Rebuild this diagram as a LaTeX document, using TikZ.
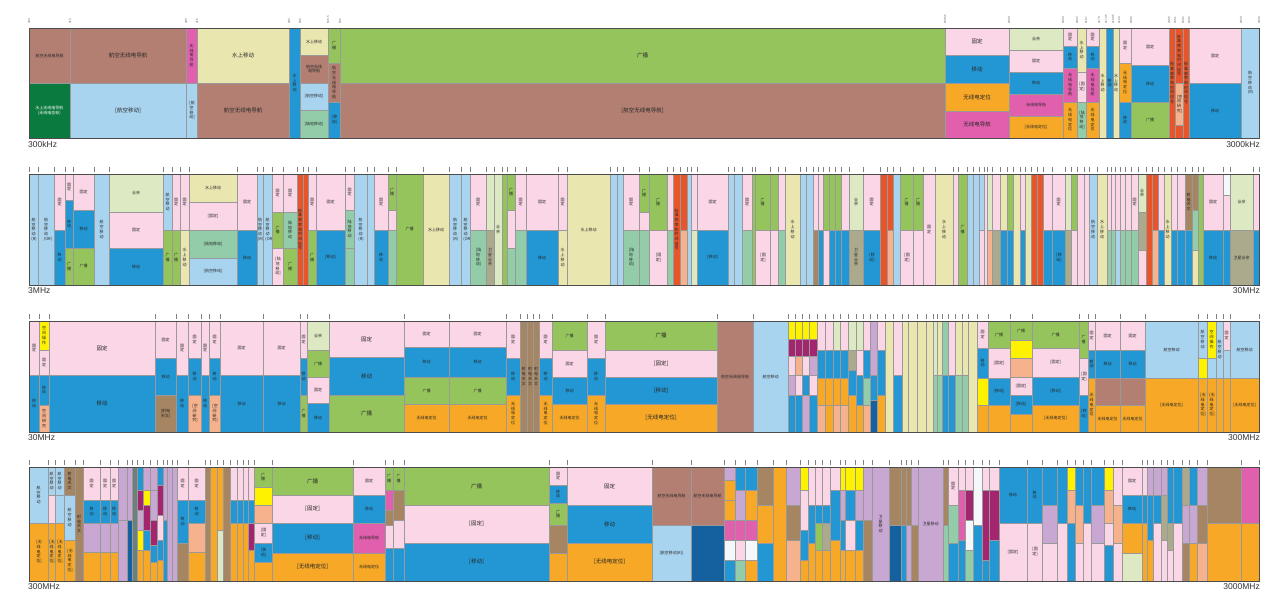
\documentclass[tikz,border=0pt]{standalone}
\usepackage{fontspec}
\setmainfont{Liberation Sans}
\newfontfamily\cjk{Noto Sans CJK SC}
\XeTeXlinebreaklocale "zh"
\XeTeXlinebreakskip=0pt
\definecolor{brn}{HTML}{B27F72}
\definecolor{dgr}{HTML}{0B7A3E}
\definecolor{lbl}{HTML}{A9D4EF}
\definecolor{mag}{HTML}{E060AE}
\definecolor{pyl}{HTML}{EAE6B0}
\definecolor{blu}{HTML}{2297D4}
\definecolor{tea}{HTML}{92CCA9}
\definecolor{grn}{HTML}{95C45C}
\definecolor{pnk}{HTML}{FAD6E6}
\definecolor{org}{HTML}{F6A826}
\definecolor{pgr}{HTML}{DDE9C2}
\definecolor{rdo}{HTML}{E9552B}
\definecolor{sal}{HTML}{F5B28C}
\definecolor{oli}{HTML}{ABAA8C}
\definecolor{yel}{HTML}{FFF200}
\definecolor{pur}{HTML}{A3256F}
\definecolor{lil}{HTML}{C8A8D2}
\definecolor{dbl}{HTML}{15609F}
\definecolor{rad}{HTML}{A58562}
\definecolor{wht}{HTML}{F4F8FB}
\definecolor{gry}{HTML}{6D7F7B}
\newcounter{cellno}
\newif\iftick
\def\nolab{n}
\newcommand\cellbox[6]{%
  \path[cellst,fill=#5] (#1,#2) rectangle (#3,#4);%
  \edef\labtmp{#6}%
  \ifx\labtmp\nolab\else
    \stepcounter{cellno}%
    \pgfmathsetmacro\cw{#3-#1}%
    \pgfmathsetmacro\cxx{(#1+#3)/2}%
    \pgfmathsetmacro\cyy{(#2+#4)/2}%
    \ifdim\cw pt<20pt
      \node[lab,text width=4.2pt] (L\arabic{cellno}) at (\cxx,\cyy) {#6};%
    \else
      \pgfmathsetmacro\tw{\cw-4}%
      \ifdim\cw pt>60pt
        \node[labbig,text width=\tw pt] (L\arabic{cellno}) at (\cxx,\cyy) {#6};%
      \else
        \node[lab,text width=\tw pt] (L\arabic{cellno}) at (\cxx,\cyy) {#6};%
      \fi
    \fi
  \fi}
\newcommand\col[3]{%
  \iftick\draw[tick] (#1,\rowtop-7) -- (#1,\rowtop-2);\fi
  \foreach \ya/\yb/\cco/\lbx in {#3}{\cellbox{#1}{\ya}{#2}{\yb}{\cco}{\lbx}}}
\tikzset{
  cellst/.style={draw=black!40, line width=0.35pt},
  lab/.style={font=\cjk\fontsize{4}{4.7}\selectfont, align=center, inner sep=0pt, text=black!85},
  labbig/.style={font=\cjk\fontsize{5.5}{6.5}\selectfont, align=center, inner sep=0pt, text=black!85},
  tick/.style={draw=black!50, line width=0.9pt},
  rowframe/.style={draw=black!70, line width=0.7pt},
  endlab/.style={font=\fontsize{8.5}{9}\selectfont, text=black!80, inner sep=0pt},
  num/.style={font=\fontsize{3}{3}\selectfont, text=black!60, inner sep=0pt, rotate=90, anchor=west}
}
\begin{document}
\begin{tikzpicture}[x=1pt,y=-1pt]
\useasboundingbox (0,0) rectangle (1272,593);
\fill[white] (0,0) rectangle (1272,593);
% ================= ROW 1 =================
\tickfalse\def\rowtop{28}
\col{29}{70}{28/83/brn/航空无线电导航, 83/138/dgr/n}
\col{70}{186}{28/83/brn/航空无线电导航, 83/138/lbl/[航空移动]}
\col{186}{197}{28/83/mag/无线电导航, 83/138/lbl/[航空移动]}
\col{197}{289}{28/83/pyl/水上移动, 83/138/brn/航空无线电导航}
\col{289}{300}{28/138/blu/水上移动}
\col{300}{328}{28/55/pyl/水上移动, 55/83/brn/航空无线电导航, 83/110/lbl/[航空移动], 110/138/tea/[陆地移动]}
\col{328}{340}{28/63/grn/广播, 63/102/brn/航空无线电导航, 102/138/blu/[移动]}
\col{340}{945}{28/83/grn/广播, 83/138/brn/[航空无线电导航]}
\col{945}{1009}{28/55/pnk/固定, 55/83/blu/移动, 83/111/org/无线电定位, 111/138/mag/无线电导航}
\col{1009}{1063}{28/50/pgr/业余, 50/72/pnk/固定, 72/94/blu/移动, 94/116/mag/无线电导航, 116/138/org/[无线电定位]}
\col{1063}{1077}{28/46/pnk/固定, 46/68/blu/移动, 68/102/mag/无线电导航, 102/138/org/无线电定位}
\col{1077}{1086}{28/72/pyl/水上移动, 72/102/pnk/[固定], 102/138/tea/[陆地移动]}
\col{1086}{1099}{28/46/pnk/固定, 46/68/blu/移动, 68/102/mag/无线电导航, 102/138/org/无线电定位}
\col{1099}{1106}{28/138/pyl/水上移动}
\col{1106}{1113}{28/138/blu/移动}
\col{1113}{1119}{28/138/pyl/水上移动}
\col{1119}{1131}{28/63/pnk/固定, 63/102/org/无线电定位, 102/138/blu/移动}
\col{1131}{1169}{28/65/pnk/固定, 65/102/blu/移动, 102/138/grn/广播}
\col{1169}{1175}{28/138/rdo/标准频率和时间信号}
\col{1175}{1183}{28/83/rdo/标准频率和时间信号, 83/125/sal/[空间研究], 125/138/rdo/n}
\col{1183}{1189}{28/138/rdo/标准频率和时间信号}
\col{1189}{1241}{28/83/pnk/固定, 83/138/blu/移动}
\col{1241}{1259}{28/138/lbl/航空移动(R)}
\node[lab,text=white,text width=38pt] (dgl) at (49.5,110.5) {水上无线电导航\\(无线电信标)};
\draw[rowframe] (29,28) rectangle (1259,138);
\foreach \xx/\tt [count=\i] in {29/300,70/315,186/405,197/415,289/495,300/505,328/526.5,340/535,945/1606.5,1009/1800,1063/2000,1077/2065,1086/2107,1099/2170,1106/2173.5,1113/2190.5,1119/2194,1131/2300,1169/2495,1175/2501,1183/2502,1189/2505,1241/2850,1259/3000}
  \node[num] (t\i) at (\xx,24) {\tt};
\node[endlab,anchor=north west] (r1a) at (28,141) {300kHz};
\node[endlab,anchor=north east] (r1b) at (1260,141) {3000kHz};
% ================= ROW 2 =================
\ticktrue\def\rowtop{174}
\col{29}{38}{174/285/lbl/航空移动(R)}
\col{38}{54}{174/285/lbl/航空移动(OR)}
\col{54}{65}{174/230/pnk/固定, 230/285/blu/移动}
\col{65}{73}{174/200/pnk/固定, 200/248/blu/移动, 248/285/grn/广播}
\col{73}{94}{174/210/pnk/固定, 210/248/blu/移动, 248/285/grn/广播}
\col{94}{109}{174/285/lbl/航空移动}
\col{109}{163}{174/212/pgr/业余, 212/248/pnk/固定, 248/285/blu/移动}
\col{163}{172}{174/230/lbl/航空移动, 230/285/grn/广播}
\col{172}{180}{174/230/pnk/固定, 230/285/grn/广播}
\col{180}{189}{174/230/pnk/固定, 230/285/pyl/水上移动}
\col{189}{237}{174/202/pyl/水上移动, 202/230/pnk/[固定], 230/258/tea/[陆地移动], 258/285/lbl/[航空移动]}
\col{237}{257}{174/230/pnk/固定, 230/285/blu/移动}
\col{257}{263}{174/285/lbl/航空移动(R)}
\col{263}{272}{174/285/lbl/航空移动(OR)}
\col{272}{283}{174/212/pnk/固定, 212/248/grn/广播, 248/285/pnk/[陆地移动]}
\col{283}{297}{174/212/pnk/固定, 212/248/tea/陆地移动, 248/285/grn/广播}
\col{297}{303}{174/285/rdo/标准频率和时间信号}
\col{303}{308}{174/285/rdo/n}
\col{308}{316}{174/230/pnk/固定, 230/285/grn/广播}
\col{316}{345}{174/230/pnk/固定, 230/285/blu/[移动]}
\col{345}{354}{174/210/pnk/固定, 210/248/tea/陆地移动, 248/285/tea/n}
\col{354}{367}{174/285/lbl/航空移动(R)}
\col{367}{374}{174/285/lbl/n}
\col{374}{388}{174/230/pnk/固定, 230/285/blu/移动}
\col{388}{396}{174/210/grn/广播, 210/230/pnk/n, 230/285/tea/n}
\col{396}{423}{174/285/grn/广播}
\col{423}{449}{174/285/pyl/水上移动}
\col{449}{461}{174/285/lbl/航空移动(R)}
\col{461}{470}{174/285/lbl/航空移动(OR)}
\col{470}{486}{174/230/pnk/固定, 230/285/tea/[陆地移动]}
\col{486}{494}{174/230/pgr/n, 230/285/oli/卫星业余}
\col{494}{502}{174/285/pgr/业余}
\col{502}{507}{174/285/grn/n}
\col{507}{515}{174/210/grn/广播, 210/248/pnk/n, 248/285/tea/n}
\col{515}{526}{174/230/pnk/固定, 230/285/tea/n}
\col{526}{558}{174/230/pnk/固定, 230/285/blu/移动}
\col{558}{567}{174/230/pnk/固定, 230/285/pyl/水上移动}
\col{567}{610}{174/285/pyl/水上移动}
\col{610}{617}{174/285/lbl/n}
\col{617}{623}{174/285/lbl/n}
\col{623}{639}{174/230/pnk/固定, 230/285/tea/[陆地移动]}
\col{639}{649}{174/212/grn/广播, 212/230/pnk/n, 230/285/tea/n}
\col{649}{667}{174/230/grn/广播, 230/285/pnk/[固定]}
\col{667}{673}{174/230/pnk/n, 230/285/tea/n}
\col{673}{680}{174/285/rdo/标准频率和时间信号}
\col{680}{687}{174/230/rdo/n, 230/285/sal/n}
\col{687}{691}{174/285/lbl/n}
\col{691}{697}{174/230/pnk/n, 230/285/pgr/n}
\col{697}{728}{174/230/pnk/固定, 230/285/blu/[移动]}
\col{728}{734}{174/285/lbl/n}
\col{734}{742}{174/285/lbl/n}
\col{742}{752}{174/230/pnk/固定, 230/285/tea/n}
\col{752}{755}{174/285/grn/n}
\col{755}{770}{174/230/grn/广播, 230/285/pnk/[固定]}
\col{770}{778}{174/230/grn/n, 230/285/pnk/n}
\col{778}{785}{174/230/pnk/n, 230/285/tea/n}
\col{785}{800}{174/285/pyl/水上移动}
\col{800}{806}{174/285/lbl/n}
\col{806}{813}{174/285/lbl/n}
\col{813}{818}{174/230/pnk/n, 230/285/rad/n}
\col{818}{823}{174/230/pnk/n, 230/285/blu/n}
\col{823}{829}{174/230/grn/n, 230/285/pnk/n}
\col{829}{835}{174/230/grn/n, 230/285/blu/n}
\col{835}{841}{174/230/grn/n, 230/285/blu/n}
\col{841}{849}{174/230/pnk/n, 230/285/blu/n}
\col{849}{863}{174/230/pgr/业余, 230/285/oli/卫星业余}
\col{863}{880}{174/230/pnk/固定, 230/285/blu/[移动]}
\col{880}{887}{174/285/rdo/n}
\col{887}{893}{174/230/rdo/n, 230/285/sal/n}
\col{893}{900}{174/285/lbl/n}
\col{900}{913}{174/230/grn/广播, 230/285/pnk/[固定]}
\col{913}{923}{174/230/grn/广播, 230/285/pnk/n}
\col{923}{935}{174/285/pnk/固定}
\col{935}{953}{174/285/pyl/水上移动}
\col{953}{958}{174/285/pnk/n}
\col{958}{967}{174/285/grn/广播}
\col{967}{973}{174/285/lbl/n}
\col{973}{979}{174/285/lbl/n}
\col{979}{984}{174/230/lbl/n, 230/285/pnk/n}
\col{984}{987}{174/285/pnk/n}
\col{987}{992}{174/230/pgr/n, 230/285/sal/n}
\col{992}{1000}{174/230/pnk/n, 230/285/oli/n}
\col{1000}{1007}{174/230/pyl/n, 230/285/blu/n}
\col{1007}{1013}{174/230/grn/n, 230/285/blu/n}
\col{1013}{1020}{174/285/pyl/n}
\col{1020}{1025}{174/230/pnk/n, 230/285/blu/n}
\col{1025}{1031}{174/285/pyl/n}
\col{1031}{1037}{174/285/rdo/n}
\col{1037}{1043}{174/285/rdo/n}
\col{1043}{1052}{174/230/pnk/n, 230/285/blu/n}
\col{1052}{1065}{174/230/pnk/固定, 230/285/blu/[移动]}
\col{1065}{1071}{174/230/pgr/n, 230/285/oli/n}
\col{1071}{1077}{174/230/grn/n, 230/285/pnk/n}
\col{1077}{1084}{174/285/pnk/n}
\col{1084}{1089}{174/285/pnk/n}
\col{1089}{1097}{174/285/lbl/航空移动}
\col{1097}{1107}{174/285/pyl/水上移动}
\col{1107}{1111}{174/230/pnk/n, 230/285/tea/n}
\col{1111}{1115}{174/230/pnk/n, 230/285/tea/n}
\col{1115}{1120}{174/230/pnk/n, 230/285/lbl/n}
\col{1120}{1125}{174/230/pnk/n, 230/285/tea/n}
\col{1125}{1131}{174/230/pnk/n, 230/285/tea/n}
\col{1131}{1138}{174/230/pnk/固定, 230/285/tea/n}
\col{1138}{1146}{174/212/pgr/业余, 212/250/oli/n, 250/285/pnk/n}
\col{1146}{1152}{174/285/rdo/n}
\col{1152}{1158}{174/230/rdo/n, 230/285/sal/n}
\col{1158}{1164}{174/230/pnk/n, 230/285/blu/n}
\col{1164}{1171}{174/285/pyl/水上移动}
\col{1171}{1177}{174/230/pnk/n, 230/285/blu/n}
\col{1177}{1185}{174/230/pnk/n, 230/285/blu/n}
\col{1185}{1192}{174/230/rad/射电天文, 230/285/blu/n}
\col{1192}{1198}{174/210/rad/n, 210/250/tea/n, 250/285/pyl/n}
\col{1198}{1203}{174/285/grn/n}
\col{1203}{1223}{174/230/pnk/固定, 230/285/blu/移动}
\col{1223}{1230}{174/195/wht/n, 195/230/pnk/n, 230/285/blu/n}
\col{1230}{1253}{174/230/pgr/业余, 230/285/oli/卫星业余}
\col{1253}{1259}{174/230/pnk/n, 230/285/blu/n}
\draw[tick] (1259,167) -- (1259,172);
\draw[rowframe] (29,174) rectangle (1259,285);
\node[endlab,anchor=north west] (r2a) at (28,287) {3MHz};
\node[endlab,anchor=north east] (r2b) at (1260,287) {30MHz};
% ================= ROW 3 =================
\def\rowtop{321}
\col{29}{39}{321/375/pnk/固定, 375/432/blu/移动}
\col{39}{49}{321/350/yel/空间操作, 350/375/pnk/固定, 375/405/blu/移动, 405/432/sal/空间研究}
\col{49}{155}{321/375/pnk/固定, 375/432/blu/移动}
\col{155}{176}{321/358/pnk/固定, 358/395/blu/移动, 395/432/rad/[射电天文]}
\col{176}{188}{321/375/pnk/固定, 375/432/blu/移动}
\col{188}{201}{321/358/pnk/固定, 358/395/blu/移动, 395/432/sal/[空间研究]}
\col{201}{209}{321/375/pnk/固定, 375/432/blu/移动}
\col{209}{220}{321/358/pnk/固定, 358/395/blu/移动, 395/432/sal/[空间研究]}
\col{220}{263}{321/375/pnk/固定, 375/432/blu/移动}
\col{263}{300}{321/375/pnk/固定, 375/432/blu/移动}
\col{300}{307}{321/358/pnk/固定, 358/395/blu/移动, 395/432/grn/广播}
\col{307}{329}{321/350/pgr/业余, 350/377/grn/广播, 377/403/pnk/固定, 403/432/blu/移动}
\col{329}{404}{321/357/pnk/固定, 357/395/blu/移动, 395/432/grn/广播}
\col{404}{449}{321/347/pnk/固定, 347/377/blu/移动, 377/404/grn/广播, 404/432/org/无线电定位}
\col{449}{506}{321/347/pnk/固定, 347/377/blu/移动, 377/404/grn/广播, 404/432/org/无线电定位}
\col{506}{520}{321/358/pnk/固定, 358/395/blu/移动, 395/432/org/无线电定位}
\col{520}{527}{321/432/rad/射电天文}
\col{527}{533}{321/432/rad/射电天文}
\col{533}{539}{321/432/rad/射电天文}
\col{539}{552}{321/358/pnk/固定, 358/395/blu/移动, 395/432/org/无线电定位}
\col{552}{587}{321/350/grn/广播, 350/377/pnk/固定, 377/404/blu/移动, 404/432/org/无线电定位}
\col{587}{605}{321/358/pnk/固定, 358/395/blu/移动, 395/432/org/无线电定位}
\col{605}{717}{321/350/grn/广播, 350/377/pnk/[固定], 377/404/blu/[移动], 404/432/org/[无线电定位]}
\col{717}{753}{321/432/brn/航空无线电导航}
\col{753}{788}{321/432/lbl/航空移动}
\col{788}{795}{321/339/yel/n, 339/356/pur/n, 356/375/pnk/n, 375/395/lil/n, 395/432/blu/n}
\col{795}{802}{321/339/yel/n, 339/356/pur/n, 356/375/sal/n, 375/395/pnk/n, 395/432/blu/n}
\col{802}{809}{321/339/yel/n, 339/356/pur/n, 356/375/pnk/n, 375/395/blu/n, 395/432/lil/n}
\col{809}{817}{321/339/yel/n, 339/356/pur/n, 356/375/lil/n, 375/395/pnk/n, 395/432/blu/n}
\col{817}{825}{321/350/pnk/n, 350/378/blu/n, 378/405/org/n, 405/432/sal/n}
\col{825}{833}{321/350/pnk/n, 350/378/blu/n, 378/405/org/n, 405/432/org/n}
\col{833}{840}{321/350/pgr/n, 350/378/blu/n, 378/405/org/n, 405/432/sal/n}
\col{840}{848}{321/350/pnk/n, 350/378/blu/n, 378/405/org/n, 405/432/sal/n}
\col{848}{856}{321/350/pgr/n, 350/370/oli/n, 370/395/blu/n, 395/432/org/n}
\col{856}{863}{321/350/pgr/n, 350/375/pnk/n, 375/405/blu/n, 405/432/org/n}
\col{863}{870}{321/350/pnk/n, 350/378/blu/n, 378/405/tea/n, 405/432/sal/n}
\col{870}{877}{321/375/lil/n, 375/400/blu/n, 400/432/dbl/n}
\col{877}{885}{321/350/pnk/n, 350/395/blu/n, 395/432/org/n}
\col{885}{893}{321/432/pyl/n}
\col{893}{902}{321/375/pnk/n, 375/432/blu/n}
\col{902}{908}{321/432/pyl/n}
\col{908}{917}{321/432/pyl/n}
\col{917}{926}{321/432/pyl/n}
\col{926}{933}{321/432/pyl/n}
\col{933}{937}{321/375/pgr/n, 375/432/tea/n}
\col{937}{942}{321/375/pyl/n, 375/432/tea/n}
\col{942}{948}{321/375/tea/n, 375/432/blu/n}
\col{948}{955}{321/375/pnk/n, 375/432/blu/n}
\col{955}{962}{321/375/pyl/n, 375/432/tea/n}
\col{962}{968}{321/375/pyl/n, 375/432/tea/n}
\col{968}{977}{321/432/pyl/n}
\col{977}{988}{321/348/pnk/固定, 348/378/blu/移动, 378/405/yel/n, 405/432/org/n}
\col{988}{1010}{321/348/grn/广播, 348/378/pnk/[固定], 378/405/blu/[移动], 405/432/org/n}
\col{1010}{1032}{321/340/grn/广播, 340/358/yel/n, 358/377/sal/n, 377/395/pnk/[固定], 395/414/blu/[移动], 414/432/org/n}
\col{1032}{1079}{321/348/grn/广播, 348/377/pnk/[固定], 377/405/blu/[移动], 405/432/org/[无线电定位]}
\col{1079}{1088}{321/358/grn/广播, 358/395/pnk/[固定], 395/432/blu/[移动]}
\col{1088}{1095}{321/350/pnk/固定, 350/378/blu/移动, 378/432/org/无线电定位}
\col{1095}{1120}{321/350/pnk/固定, 350/378/blu/移动, 378/405/brn/n, 405/432/org/无线电定位}
\col{1120}{1145}{321/350/pnk/固定, 350/378/blu/移动, 378/405/brn/n, 405/432/org/无线电定位}
\col{1145}{1198}{321/378/lbl/航空移动, 378/432/org/[无线电定位]}
\col{1198}{1207}{321/358/lbl/航空移动, 358/378/yel/n, 378/432/org/[无线电定位]}
\col{1207}{1216}{321/358/yel/空间操作, 358/378/lbl/n, 378/432/org/[无线电定位]}
\col{1216}{1223}{321/378/lbl/航空移动, 378/432/org/n}
\col{1223}{1230}{321/350/pnk/固定, 350/378/lbl/n, 378/432/org/n}
\col{1230}{1259}{321/378/lbl/航空移动, 378/432/org/[无线电定位]}
\draw[tick] (1259,314) -- (1259,319);
\draw[rowframe] (29,321) rectangle (1259,432);
\node[endlab,anchor=north west] (r3a) at (28,434) {30MHz};
\node[endlab,anchor=north east] (r3b) at (1260,434) {300MHz};
% ================= ROW 4 =================
\def\rowtop{467}
\col{29}{48}{467/523/lbl/航空移动, 523/581/org/[无线电定位]}
\col{48}{55}{467/495/lbl/航空移动, 495/523/pnk/n, 523/581/org/[无线电定位]}
\col{55}{64}{467/495/lbl/航空移动, 495/523/lbl/n, 523/581/org/[无线电定位]}
\col{64}{75}{467/495/rad/射电天文, 495/540/lbl/航空移动, 540/581/org/[无线电定位]}
\col{75}{83}{467/581/rad/射电天文}
\col{83}{100}{467/500/pnk/固定, 500/523/blu/移动, 523/552/lil/n, 552/581/org/n}
\col{100}{110}{467/500/pnk/固定, 500/523/blu/移动, 523/552/lil/n, 552/581/org/n}
\col{110}{118}{467/500/pnk/固定, 500/523/blu/移动, 523/552/lil/n, 552/581/org/n}
\col{118}{127}{467/520/lil/n, 520/581/lil/n}
\col{127}{132}{467/520/lil/n, 520/581/dbl/n}
\col{132}{137}{467/581/gry/n}
\col{137}{143}{467/490/blu/n, 490/510/pur/n, 510/530/lil/n, 530/550/yel/n, 550/581/org/n}
\col{143}{150}{467/490/lil/n, 490/505/yel/n, 505/530/pur/n, 530/550/blu/n, 550/581/org/n}
\col{150}{157}{467/490/lil/n, 490/520/lil/n, 520/545/pur/n, 545/562/blu/n, 562/581/org/n}
\col{157}{163}{467/485/blu/n, 485/515/pur/n, 515/540/pnk/n, 540/560/blu/n, 560/581/org/n}
\col{163}{167}{467/520/lil/n, 520/581/blu/n}
\col{167}{172}{467/581/lil/n}
\col{172}{177}{467/581/lil/n}
\col{177}{188}{467/500/pnk/固定, 500/543/blu/移动, 543/581/rad/n}
\col{188}{205}{467/500/pnk/固定, 500/523/blu/移动, 523/552/sal/n, 552/581/org/n}
\col{205}{210}{467/581/rad/n}
\col{210}{217}{467/581/org/n}
\col{217}{223}{467/530/org/n, 530/581/pgr/n}
\col{223}{230}{467/581/rad/n}
\col{230}{237}{467/500/pnk/n, 500/523/blu/n, 523/581/org/n}
\col{237}{243}{467/500/pnk/n, 500/523/blu/n, 523/581/org/n}
\col{243}{248}{467/500/pnk/n, 500/523/blu/n, 523/581/org/n}
\col{248}{254}{467/500/pnk/n, 500/523/blu/n, 523/550/pur/n, 550/581/org/n}
\col{254}{272}{467/487/grn/广播, 487/505/yel/n, 505/523/sal/n, 523/543/pnk/[固定], 543/562/blu/[移动], 562/581/org/n}
\col{272}{353}{467/495/grn/广播, 495/523/pnk/[固定], 523/553/blu/[移动], 553/581/org/[无线电定位]}
\col{353}{385}{467/495/pnk/固定, 495/523/blu/移动, 523/553/mag/无线电导航, 553/581/org/无线电定位}
\col{385}{393}{467/490/grn/广播, 490/510/mag/n, 510/525/rad/n, 525/548/pnk/n, 548/581/blu/n}
\col{393}{404}{467/490/grn/广播, 490/520/rad/n, 520/548/pnk/n, 548/581/blu/n}
\col{404}{549}{467/505/grn/广播, 505/543/pnk/[固定], 543/581/blu/[移动]}
\col{549}{567}{467/485/pnk/固定, 485/503/blu/移动, 503/525/grn/广播, 525/553/rad/n, 553/581/org/n}
\col{567}{652}{467/505/pnk/固定, 505/543/blu/移动, 543/581/org/[无线电定位]}
\col{652}{691}{467/525/brn/航空无线电导航, 525/581/lbl/[航空移动(R)]}
\col{691}{724}{467/525/brn/航空无线电导航, 525/581/dbl/n}
\col{724}{735}{467/480/lil/n, 480/500/org/n, 500/520/org/n, 520/540/mag/n, 540/560/wht/n, 560/581/blu/n}
\col{735}{745}{467/490/blu/n, 490/520/lil/n, 520/540/mag/n, 540/560/pnk/n, 560/581/tea/n}
\col{745}{757}{467/490/blu/n, 490/520/org/n, 520/540/mag/n, 540/560/wht/n, 560/581/org/n}
\col{757}{773}{467/505/rad/n, 505/543/org/n, 543/581/blu/n}
\col{773}{786}{467/581/org/n}
\col{786}{800}{467/505/lil/n, 505/540/rad/n, 540/581/sal/n}
\col{800}{808}{467/490/yel/n, 490/530/pnk/n, 530/560/blu/n, 560/581/org/n}
\col{808}{815}{467/505/pnk/n, 505/543/blu/n, 543/581/org/n}
\col{815}{822}{467/505/pnk/n, 505/523/blu/n, 523/550/grn/n, 550/581/org/n}
\col{822}{830}{467/505/pnk/n, 505/523/blu/n, 523/550/oli/n, 550/581/org/n}
\col{830}{840}{467/490/pnk/n, 490/540/blu/n, 540/581/org/n}
\col{840}{845}{467/490/yel/n, 490/520/lil/n, 520/550/blu/n, 550/581/org/n}
\col{845}{855}{467/490/yel/n, 490/520/blu/n, 520/550/pnk/n, 550/581/org/n}
\col{855}{863}{467/490/yel/n, 490/520/lil/n, 520/550/blu/n, 550/581/org/n}
\col{863}{872}{467/520/lil/n, 520/581/rad/n}
\col{872}{889}{467/581/lil/卫星移动}
\col{889}{901}{467/525/rad/n, 525/581/dbl/n}
\col{901}{906}{467/525/rad/n, 525/581/blu/n}
\col{906}{911}{467/525/rad/n, 525/581/lil/n}
\col{911}{918}{467/525/lil/n, 525/581/rad/n}
\col{918}{943}{467/581/lil/卫星移动}
\col{943}{948}{467/525/rad/n, 525/581/tea/n}
\col{948}{958}{467/505/pnk/固定, 505/543/tea/n, 543/581/blu/n}
\col{958}{965}{467/490/pnk/n, 490/540/mag/n, 540/581/blu/n}
\col{965}{973}{467/490/pnk/n, 490/520/pur/n, 520/550/wht/n, 550/581/tea/n}
\col{973}{982}{467/525/wht/n, 525/581/blu/n}
\col{982}{989}{467/490/pnk/n, 490/560/pur/n, 560/581/blu/n}
\col{989}{999}{467/490/pnk/n, 490/540/pur/n, 540/581/blu/n}
\col{999}{1027}{467/523/blu/移动, 523/581/pnk/[固定]}
\col{1027}{1042}{467/523/blu/移动, 523/581/pnk/[固定]}
\col{1042}{1057}{467/505/blu/n, 505/543/lil/n, 543/581/pnk/n}
\col{1057}{1067}{467/523/blu/n, 523/581/pnk/n}
\col{1067}{1075}{467/490/yel/n, 490/523/sal/n, 523/581/blu/n}
\col{1075}{1083}{467/505/blu/n, 505/543/sal/n, 543/581/pnk/n}
\col{1083}{1091}{467/523/blu/n, 523/581/pnk/n}
\col{1091}{1104}{467/505/blu/n, 505/543/lil/n, 543/581/pnk/n}
\col{1104}{1113}{467/490/yel/n, 490/523/sal/n, 523/545/pnk/n, 545/581/blu/n}
\col{1113}{1122}{467/505/pnk/n, 505/543/sal/n, 543/581/pnk/n}
\col{1122}{1142}{467/495/pnk/固定, 495/523/blu/移动, 523/553/org/n, 553/581/pgr/n}
\col{1142}{1147}{467/495/pnk/n, 495/523/blu/n, 523/581/org/n}
\col{1147}{1153}{467/495/lil/n, 495/540/blu/n, 540/581/org/n}
\col{1153}{1161}{467/495/lil/n, 495/523/blu/n, 523/581/pnk/n}
\col{1161}{1167}{467/495/lil/n, 495/540/oli/n, 540/581/pnk/n}
\col{1167}{1173}{467/523/blu/n, 523/550/oli/n, 550/581/pnk/n}
\col{1173}{1182}{467/523/blu/n, 523/581/pnk/n}
\col{1182}{1189}{467/505/oli/n, 505/543/lil/n, 543/581/rad/n}
\col{1189}{1197}{467/505/blu/n, 505/543/lil/n, 543/581/org/n}
\col{1197}{1207}{467/505/lil/n, 505/543/rad/n, 543/581/sal/n}
\col{1207}{1241}{467/523/rad/n, 523/581/org/n}
\col{1241}{1259}{467/523/mag/n, 523/581/org/n}
\draw[tick] (1259,460) -- (1259,465);
\draw[rowframe] (29,467) rectangle (1259,581);
\node[endlab,anchor=north west] (r4a) at (28,583) {300MHz};
\node[endlab,anchor=north east] (r4b) at (1260,583) {3000MHz};
\end{tikzpicture}
\end{document}
